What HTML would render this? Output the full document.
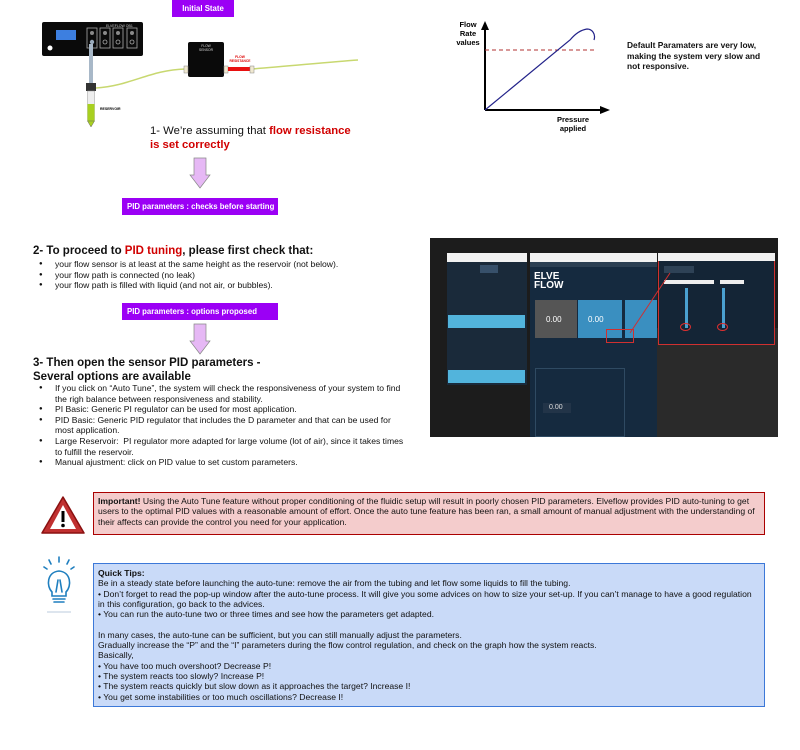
<!DOCTYPE html>
<html><head><meta charset="utf-8"><style>
*{margin:0;padding:0;box-sizing:border-box}
body{width:800px;height:750px;background:#fff;position:relative;overflow:hidden;font-family:"Liberation Sans",Arial,sans-serif;color:#111}
.a{position:absolute}
.pbox{position:absolute;background:#9b00f5;color:#fff;font-weight:bold;font-size:7.8px;padding:4px 5px;white-space:nowrap}
.sm{font-size:8.6px;line-height:10.6px}
ul{list-style:none}
li{position:relative;padding-left:22px}
li:before{content:"●";position:absolute;left:6px;font-size:6px}
.h{font-weight:bold;font-size:11.5px;line-height:13.5px}
.red{color:#d10000}
</style></head><body>

<div class="pbox" style="left:172px;top:0;width:62px;height:17px;text-align:center;padding-top:4px">Initial State</div>

<svg class="a" style="left:0;top:0" width="420" height="200">
 <rect x="42" y="22" width="101" height="34" rx="2" fill="#0a0a0a"/>
 <rect x="56" y="30" width="20" height="10" fill="#3d7fe0"/>
 <circle cx="50" cy="48" r="2.5" fill="#fff"/>
 <text x="106" y="27" font-size="3.5" fill="#ccc" font-family="Liberation Sans">ELVEFLOW OB1</text>
 <g fill="none" stroke="#aaa" stroke-width="0.8">
  <rect x="87" y="28" width="10" height="20"/><rect x="100" y="28" width="10" height="20"/><rect x="113" y="28" width="10" height="20"/><rect x="127" y="28" width="10" height="20"/>
  <circle cx="105" cy="42" r="2"/><circle cx="118" cy="42" r="2"/><circle cx="132" cy="42" r="2"/>
 </g>
 <g fill="#888"><circle cx="92" cy="33" r="2"/><circle cx="105" cy="33" r="2"/><circle cx="118" cy="33" r="2"/><circle cx="132" cy="33" r="2"/></g>
 <circle cx="92" cy="42" r="2.2" fill="#9ab"/>
 <line x1="91" y1="44" x2="91" y2="85" stroke="#a8b8c8" stroke-width="4"/>
 <path d="M96 88 C130 86,150 70,185 69" fill="none" stroke="#c8d870" stroke-width="1.5"/>
 <path d="M252 69 C290 66,330 62,358 60" fill="none" stroke="#c8d870" stroke-width="1.5"/>
 <rect x="86" y="83" width="10" height="8" fill="#333"/>
 <rect x="87.5" y="91" width="7" height="30" fill="#eee" stroke="#999" stroke-width="0.5"/>
 <rect x="87.5" y="104" width="7" height="17" fill="#a8d020"/>
 <path d="M87.5 121 L94.5 121 L91 127 Z" fill="#a8d020" stroke="#666" stroke-width="0.5"/>
 <text x="100" y="110" font-size="3.5" font-weight="bold" font-family="Liberation Sans">RESERVOIR</text>
 <rect x="188" y="42" width="36" height="35" rx="2" fill="#0a0a0a"/>
 <text x="206" y="47" font-size="3.3" fill="#ddd" text-anchor="middle" font-family="Liberation Sans">FLOW</text>
 <text x="206" y="51" font-size="3.3" fill="#ddd" text-anchor="middle" font-family="Liberation Sans">SENSOR</text>
 <rect x="184" y="66" width="4" height="7" fill="#f0e8d0" stroke="#888" stroke-width="0.5"/>
 <rect x="224" y="66" width="4" height="7" fill="#f0e8d0" stroke="#888" stroke-width="0.5"/>
 <rect x="228" y="67" width="22" height="4" fill="#e81010"/>
 <rect x="250" y="66" width="4" height="7" fill="#f0e8d0" stroke="#888" stroke-width="0.5"/>
 <text x="240" y="58" font-size="3.3" fill="#d00" text-anchor="middle" font-weight="bold" font-family="Liberation Sans">FLOW</text>
 <text x="240" y="62" font-size="3.3" fill="#d00" text-anchor="middle" font-weight="bold" font-family="Liberation Sans">RESISTANCE</text>
 <path d="M194 158 L206 158 L206 175 L210 175 L200 188 L190 175 L194 175 Z" fill="#e6b8f5" stroke="#888" stroke-width="0.7"/>
</svg>

<div class="a" style="left:150px;top:124px;font-size:11.3px;line-height:14px">1- We’re assuming that <b class="red">flow resistance</b><br><b class="red">is set correctly</b></div>

<div class="pbox" style="left:122px;top:198px;width:156px;height:17px">PID parameters : checks before starting</div>

<svg class="a" style="left:430px;top:0" width="200" height="140">
 <line x1="55" y1="110" x2="55" y2="28" stroke="#000" stroke-width="2"/>
 <path d="M51 30 L55 21 L59 30 Z" fill="#000"/>
 <line x1="55" y1="110" x2="172" y2="110" stroke="#000" stroke-width="2"/>
 <path d="M170 106 L180 110 L170 114 Z" fill="#000"/>
 <line x1="55" y1="50" x2="165" y2="50" stroke="#b03030" stroke-dasharray="4,3" stroke-width="1"/>
 <path d="M55 110 L140 40 C145 34,150 30,157 29 C162 29,166 34,164 40" fill="none" stroke="#23238a" stroke-width="1.2"/>
 <text font-size="7.5" font-weight="bold" font-family="Liberation Sans" text-anchor="middle"><tspan x="38" y="27">Flow</tspan><tspan x="38" y="36">Rate</tspan><tspan x="38" y="45">values</tspan><tspan x="143" y="122">Pressure</tspan><tspan x="143" y="131">applied</tspan></text>
</svg>
<div class="a" style="left:627px;top:40px;font-size:8.4px;font-weight:bold;line-height:10.5px">Default Paramaters are very low,<br>making the system very slow and<br>not responsive.</div>

<div class="a h" style="left:33px;top:245px">2- To proceed to <span class="red">PID tuning</span>, please first check that:</div>
<ul class="a sm" style="left:33px;top:259px"><li>your flow sensor is at least at the same height as the reservoir (not below).</li><li>your flow path is connected (no leak)</li><li>your flow path is filled with liquid (and not air, or bubbles).</li></ul>

<div class="pbox" style="left:122px;top:303px;width:156px;height:17px">PID parameters : options proposed</div>
<svg class="a" style="left:185px;top:322px" width="30" height="35"><path d="M9 2 L21 2 L21 19 L25 19 L15 32 L5 19 L9 19 Z" fill="#e6b8f5" stroke="#888" stroke-width="0.7"/></svg>

<div class="a h" style="left:33px;top:357px">3- Then open the sensor PID parameters -<br>Several options are available</div>
<ul class="a sm" style="left:33px;top:383px"><li>If you click on “Auto Tune”, the system will check the responsiveness of your system to find<br>the righ balance between responsiveness and stability.</li><li>PI Basic: Generic PI regulator can be used for most application.</li><li>PID Basic: Generic PID regulator that includes the D parameter and that can be used for<br>most application.</li><li>Large Reservoir:&nbsp; PI regulator more adapted for large volume (lot of air), since it takes times<br>to fulfill the reservoir.</li><li>Manual ajustment: click on PID value to set custom parameters.</li></ul>

<!-- screenshot -->
<div class="a" style="left:430px;top:238px;width:348px;height:199px;background:#1c1c1c;overflow:hidden">
 <div class="a" style="left:225px;top:90px;width:123px;height:109px;background:#2a2a2a"></div>
 <div class="a" style="left:17px;top:15px;width:80px;height:132px;background:#1a2a3a"></div>
 <div class="a" style="left:17px;top:15px;width:80px;height:9px;background:#f2f2f2"></div>
 <div class="a" style="left:18px;top:77px;width:77px;height:13px;background:#52b4dc"></div>
 <div class="a" style="left:18px;top:132px;width:77px;height:13px;background:#52b4dc"></div>
 <div class="a" style="left:50px;top:27px;width:18px;height:8px;background:#37506a"></div>
 <div class="a" style="left:100px;top:15px;width:127px;height:184px;background:#152a3f"></div>
 <div class="a" style="left:100px;top:15px;width:127px;height:9px;background:#f2f2f2"></div>
 <div class="a" style="left:100px;top:24px;width:127px;height:5px;background:#2b3f52"></div>
 <div class="a" style="left:104px;top:34px;font-size:10px;font-weight:bold;color:#fff;line-height:9px">ELVE<br>FLOW</div>
 <div class="a" style="left:105px;top:62px;width:42px;height:38px;background:#555"></div>
 <div class="a" style="left:148px;top:62px;width:44px;height:38px;background:#3a8fc0"></div>
 <div class="a" style="left:195px;top:62px;width:32px;height:38px;background:#3a8fc0"></div>
 <div class="a" style="left:116px;top:77px;font-size:8px;color:#fff">0.00</div>
 <div class="a" style="left:158px;top:77px;font-size:8px;color:#fff">0.00</div>
 <div class="a" style="left:105px;top:130px;width:90px;height:69px;border:1px solid #2f4a62"></div>
 <div class="a" style="left:113px;top:165px;width:28px;height:10px;background:#223448"></div>
 <div class="a" style="left:119px;top:166px;font-size:7px;color:#ddd">0.00</div>
 <div class="a" style="left:176px;top:91px;width:28px;height:14px;border:1px solid #d03030"></div>
 <div class="a" style="left:228px;top:15px;width:117px;height:92px;background:#142536;border:1.5px solid #d03030"></div>
 <div class="a" style="left:228px;top:15px;width:117px;height:8px;background:#f2f2f2"></div>
 <div class="a" style="left:234px;top:28px;width:30px;height:7px;background:#2e4256"></div>
 <div class="a" style="left:234px;top:42px;width:50px;height:4px;background:#eee"></div>
 <div class="a" style="left:290px;top:42px;width:24px;height:4px;background:#eee"></div>
 <div class="a" style="left:255px;top:50px;width:3px;height:40px;background:#4aa0d0"></div>
 <div class="a" style="left:292px;top:50px;width:3px;height:40px;background:#4aa0d0"></div>
 <div class="a" style="left:250px;top:85px;width:11px;height:8px;border:1px solid #e03030;border-radius:50%"></div>
 <div class="a" style="left:287px;top:85px;width:11px;height:8px;border:1px solid #e03030;border-radius:50%"></div>
 <svg class="a" style="left:0;top:0" width="348" height="199"><line x1="200" y1="95" x2="240" y2="35" stroke="#d03030" stroke-width="1"/></svg>
</div>

<!-- warning -->
<svg class="a" style="left:40px;top:494px" width="46" height="42"><path d="M23 3 L44 39 L2 39 Z" fill="#c03030" stroke="#8a1010" stroke-width="1.5" stroke-linejoin="round"/><path d="M23 11 L36 35 L10 35 Z" fill="#fff"/><rect x="21.5" y="17" width="3" height="11" fill="#000"/><circle cx="23" cy="31.5" r="1.8" fill="#000"/></svg>
<div class="a" style="left:93px;top:492px;width:672px;height:43px;background:#f4cccc;border:1.5px solid #a00;padding:3px 4px;font-size:8.6px;line-height:10.4px"><b>Important!</b> Using the Auto Tune feature without proper conditioning of the fluidic setup will result in poorly chosen PID parameters. Elveflow provides PID auto-tuning to get users to the optimal PID values with a reasonable amount of effort. Once the auto tune feature has been ran, a small amount of manual adjustment with the understanding of their affects can provide the control you need for your application.</div>

<!-- tips -->
<svg class="a" style="left:42px;top:556px" width="34" height="58"><g stroke="#1f7fbf" stroke-width="1.6" fill="none" stroke-linecap="round"><line x1="17" y1="1" x2="17" y2="6"/><line x1="7" y1="4" x2="9" y2="8"/><line x1="27" y1="4" x2="25" y2="8"/><line x1="2" y1="11" x2="5" y2="13"/><line x1="32" y1="11" x2="29" y2="13"/><path d="M10 36 C4 30,5 16,17 15 C29 16,30 30,24 36 L24 40 L10 40 Z"/><line x1="11" y1="43" x2="23" y2="43"/><line x1="12" y1="46" x2="22" y2="46"/><path d="M14 36 L16 24 M20 36 L18 24"/></g><line x1="5" y1="56" x2="29" y2="56" stroke="#dde5ee" stroke-width="2"/></svg>
<div class="a" style="left:93px;top:563px;width:672px;height:144px;background:#c9daf8;border:1.5px solid #3c78d8;padding:4px 4px;font-size:8.6px;line-height:10.3px"><b>Quick Tips:</b><br>Be in a steady state before launching the auto-tune: remove the air from the tubing and let flow some liquids to fill the tubing.<br>• Don’t forget to read the pop-up window after the auto-tune process. It will give you some advices on how to size your set-up. If you can’t manage to have a good regulation in this configuration, go back to the advices.<br>• You can run the auto-tune two or three times and see how the parameters get adapted.<br><br>In many cases, the auto-tune can be sufficient, but you can still manually adjust the parameters.<br>Gradually increase the “P” and the “I” parameters during the flow control regulation, and check on the graph how the system reacts.<br>Basically,<br>• You have too much overshoot? Decrease P!<br>• The system reacts too slowly? Increase P!<br>• The system reacts quickly but slow down as it approaches the target? Increase I!<br>• You get some instabilities or too much oscillations? Decrease I!</div>

</body></html>
